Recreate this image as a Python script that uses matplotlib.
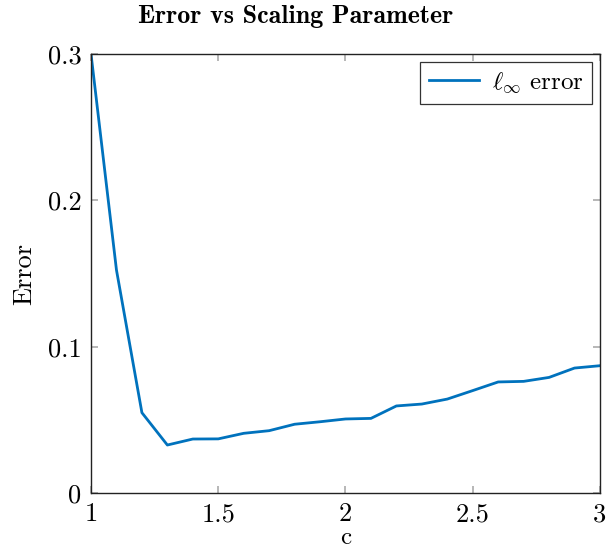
import matplotlib.pyplot as plt

c_vals = [1.0, 1.1, 1.2, 1.3, 1.4, 1.5, 1.6, 1.7, 1.8, 1.9, 2.0,
          2.1, 2.2, 2.3, 2.4, 2.5, 2.6, 2.7, 2.8, 2.9, 3.0]
err_inf = [0.300, 0.1524, 0.0549, 0.0328, 0.0369, 0.0370, 0.0408, 0.0426, 0.0470, 0.0487, 0.0506,
           0.0510, 0.0595, 0.0608, 0.0642, 0.0700, 0.0759, 0.0763, 0.0790, 0.0854, 0.0870]
x_ticks = [1, 1.5, 2, 2.5, 3]
x_ticklabels = ["1", "1.5", "2", "2.5", "3"]
y_ticks = [0, 0.1, 0.2, 0.3]
y_ticklabels = ["0", "0.1", "0.2", "0.3"]

plt.rcParams["font.family"] = ["cmr10", "DejaVu Serif"]
plt.rcParams["mathtext.fontset"] = "cm"
plt.rcParams["axes.unicode_minus"] = False

fig = plt.figure(figsize=(6.08, 5.5), dpi=100)
ax = fig.add_axes([0.1497, 0.1036, 0.8371, 0.7982])

ax.plot(c_vals, err_inf, color="#0072BD", lw=2.0, label=r"$\ell_\infty$ error")

ax.set_xlim(1, 3)
ax.set_ylim(0, 0.3)
ax.set_xticks(x_ticks)
ax.set_xticklabels(x_ticklabels)
ax.set_yticks(y_ticks)
ax.set_yticklabels(y_ticklabels)
ax.tick_params(direction="in", top=True, right=True, length=5, width=1.2,
               color="#aaaaaa", labelsize=19, pad=7)
for sp in ax.spines.values():
    sp.set_color("#222222")
    sp.set_linewidth(1.0)

ax.set_xlabel("c", fontsize=18, labelpad=0)
ax.set_ylabel("Error", fontsize=19, labelpad=8)
fig.text(296 / 608, 1 - 17 / 550, "Error vs Scaling Parameter", fontsize=18.7,
         family=["cmb10", "DejaVu Serif"], ha="center", va="center")

leg = ax.legend(loc="upper right", fontsize=18, frameon=True, fancybox=False,
                edgecolor="#333333", framealpha=1, borderpad=0.35, handlelength=2.0,
                handletextpad=0.5, borderaxespad=0.3)
leg.get_frame().set_linewidth(0.9)

fig.savefig("out.png", dpi=100)
